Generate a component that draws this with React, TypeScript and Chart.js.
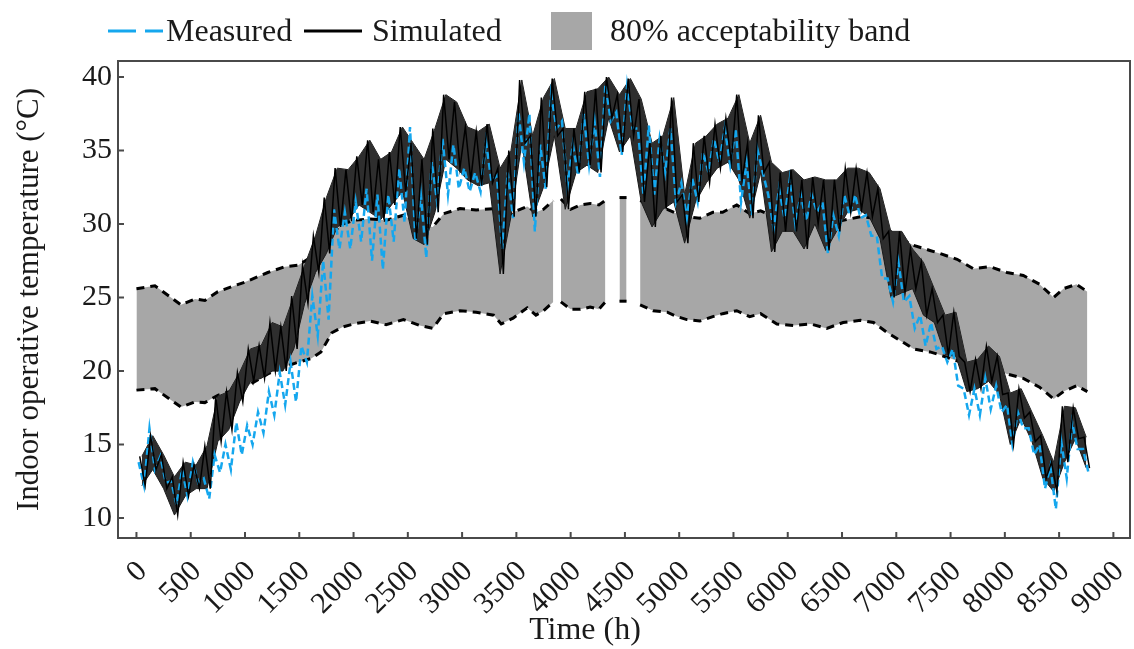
import { useEffect, useRef } from "react";
import { Chart, registerables } from "chart.js";

Chart.register(...registerables);

const FONT = '"Liberation Serif", "Times New Roman", serif';
const INK = "#1a1a1a";
const BLUE = "#15a7ee";
const BAND_GREY = "#a7a7a7";
const SIM_FILL = "#2e2e2e";

// Start hour of each 100 h window
const hours = [
  0, 100, 200, 300, 400, 500, 600, 700, 800, 900,
  1000, 1100, 1200, 1300, 1400, 1500, 1600, 1700, 1800, 1900,
  2000, 2100, 2200, 2300, 2400, 2500, 2600, 2700, 2800, 2900,
  3000, 3100, 3200, 3300, 3400, 3500, 3600, 3700, 3800, 3900,
  4000, 4100, 4200, 4300, 4400, 4500, 4600, 4700, 4800, 4900,
  5000, 5100, 5200, 5300, 5400, 5500, 5600, 5700, 5800, 5900,
  6000, 6100, 6200, 6300, 6400, 6500, 6600, 6700, 6800, 6900,
  7000, 7100, 7200, 7300, 7400, 7500, 7600, 7700, 7800, 7900,
  8000, 8100, 8200, 8300, 8400, 8500, 8600, 8700,
];

// Simulated operative temperature: daily highs / lows within each window (°C)
const simulatedHigh = [
  14.2, 15.6, 14.3, 12.8, 13.8, 13.6, 14.9, 18.3, 18.6, 19.9,
  21.5, 21.75, 23.3, 23.0, 25.1, 27.2, 29.2, 31.8, 33.8, 33.7,
  34.6, 35.7, 34.4, 34.9, 36.6, 35.5, 34.4, 36.5, 38.8, 38.3,
  36.6, 36.3, 36.8, 33.8, 35.0, 39.8, 36.0, 38.6, 39.9, 36.5,
  36.5, 39.0, 39.2, 40.0, 38.8, 39.9, 38.5, 35.5, 36.0, 38.6,
  32.0, 35.5, 36.0, 36.8, 37.2, 38.8, 35.5, 37.4, 34.2, 33.5,
  33.7, 33.0, 33.2, 33.0, 33.0, 33.8, 33.8, 33.5, 32.4, 29.5,
  29.5, 28.3, 27.4, 25.6, 23.8, 24.0, 20.6, 20.8, 21.7, 21.0,
  18.5, 18.8, 17.2, 15.6, 13.8, 17.6, 17.5, 15.5,
];
const simulatedLow = [
  12.2, 13.3, 12.0, 10.2, 11.5, 12.0, 12.0, 15.2, 16.0, 17.9,
  19.3, 19.5, 20.0, 20.0, 21.5, 24.6, 26.7, 28.0, 29.8, 30.2,
  31.3, 30.8, 30.3, 31.3, 32.2, 29.0, 28.6, 30.8, 34.4, 33.8,
  33.0, 32.6, 32.8, 26.6, 30.5, 35.5, 30.5, 32.5, 36.0, 31.0,
  33.5, 34.0, 33.5, 37.2, 34.9, 36.0, 31.5, 29.8, 31.0, 31.5,
  28.7, 31.5, 32.8, 33.8, 34.2, 33.0, 30.4, 33.5, 28.1, 29.5,
  29.5, 28.3, 30.0, 28.2, 29.5, 30.8, 31.0, 30.5, 29.0, 25.0,
  25.3, 25.6, 23.8, 23.3, 21.1, 21.0, 18.6, 18.8, 19.3, 18.4,
  15.0, 16.8, 15.2, 12.7, 11.8, 13.8, 15.4, 13.4,
];

// Measured operative temperature: highs / lows within each window (°C)
const measuredHigh = [
  13.8, 16.1, 14.2, 12.5, 13.3, 13.8, 12.7, 14.3, 15.0, 16.5,
  16.3, 17.2, 18.6, 19.9, 20.6, 21.7, 25.1, 27.5, 31.0, 30.8,
  31.5, 32.4, 32.0, 32.0, 33.8, 36.6, 32.0, 34.2, 35.8, 35.4,
  33.8, 33.5, 35.6, 33.3, 33.5, 37.6, 37.5, 35.4, 38.8, 37.0,
  35.4, 37.5, 37.0, 39.5, 37.6, 39.4, 36.5, 36.7, 35.8, 36.5,
  32.8, 33.1, 34.9, 35.8, 36.5, 36.5, 34.2, 35.1, 32.0, 32.4,
  33.1, 32.0, 32.0, 31.5, 30.6, 32.0, 32.0, 30.6, 29.2, 26.3,
  27.4, 25.1, 23.8, 23.3, 21.7, 21.5, 18.8, 18.8, 19.5, 19.0,
  17.7, 17.2, 16.1, 15.0, 13.5, 15.2, 16.5, 14.7,
];
const measuredLow = [
  12.2, 13.3, 12.4, 10.9, 11.5, 12.4, 11.3, 13.1, 13.3, 14.3,
  15.0, 15.8, 17.0, 17.7, 17.9, 20.6, 22.4, 23.5, 28.3, 28.3,
  28.8, 27.5, 26.9, 28.8, 30.1, 28.8, 27.7, 31.5, 32.0, 32.4,
  32.2, 32.2, 32.9, 28.3, 30.4, 34.2, 29.5, 32.4, 36.5, 32.5,
  33.3, 34.0, 33.2, 37.0, 34.7, 36.5, 32.0, 32.0, 33.5, 31.5,
  30.4, 31.5, 33.5, 34.2, 34.0, 31.5, 30.6, 33.5, 29.7, 30.4,
  30.0, 30.2, 30.8, 28.0, 29.2, 30.6, 30.4, 29.2, 26.3, 24.7,
  24.7, 22.9, 21.7, 21.5, 20.6, 19.0, 17.0, 17.0, 17.4, 17.2,
  15.0, 16.1, 14.3, 12.0, 10.6, 12.7, 14.7, 13.1,
];

// 80 % acceptability limits (null = no limit available)
const bandHours = [
  0, 170, 410, 540, 630, 750, 1000, 1210, 1370, 1490,
  1610, 1700, 1800, 1900, 2000, 2150, 2300, 2460, 2610, 2730,
  2830, 2980, 3130, 3290, 3360, 3470, 3600, 3680, 3750, 3840,
  3875, 3910, 4000, 4090, 4180, 4260, 4320, 4380, 4450, 4515,
  4580, 4640, 4760, 4890, 4980, 5070, 5190, 5310, 5400, 5530,
  5650, 5750, 5900, 6050, 6210, 6360, 6510, 6670, 6790, 6910,
  7030, 7160, 7310, 7400, 7560, 7710, 7860, 8020, 8170, 8320,
  8450, 8540, 8660, 8760,
];
const bandUpper = [
  25.6, 25.8, 24.5, 24.9, 24.8, 25.4, 26.05, 26.7, 27.1, 27.2,
  27.75, 28.4, 29.4, 30.0, 30.25, 30.35, 30.25, 30.6, 29.9, 29.8,
  30.7, 31.05, 30.95, 31.05, 30.25, 30.8, 31.2, 30.8, 31.0, 31.6,
  null, 31.7, 31.0, 31.3, 31.4, 31.3, 31.6, null, 31.8, 31.8,
  null, 31.6, 31.3, 31.0, 30.7, 30.5, 30.4, 30.8, 30.8, 31.3,
  30.7, 30.9, 30.4, 30.25, 30.1, 30.0, 30.25, 30.5, 30.4, 29.7,
  29.0, 28.55, 28.2, 28.0, 27.6, 26.96, 27.1, 26.7, 26.5, 25.9,
  25.0, 25.6, 25.9, 25.4,
];
const bandLower = [
  18.7, 18.8, 17.55, 17.9, 17.85, 18.35, 18.9, 19.8, 20.3, 20.6,
  20.85, 21.3, 22.6, 23.0, 23.2, 23.4, 23.15, 23.5, 23.1, 22.9,
  23.9, 24.1, 24.0, 23.8, 23.2, 23.6, 24.3, 23.8, 24.1, 24.7,
  null, 24.7, 24.2, 24.2, 24.35, 24.2, 24.7, null, 24.75, 24.75,
  null, 24.5, 24.1, 24.0, 23.7, 23.5, 23.4, 23.7, 23.9, 24.1,
  23.7, 23.9, 23.2, 23.1, 23.2, 22.9, 23.3, 23.45, 23.3, 22.65,
  22.1, 21.5, 21.3, 21.1, 20.7, 20.2, 20.2, 19.8, 19.5, 18.9,
  18.1, 18.6, 19.0, 18.6,
];

const xTicks = [
  0, 500, 1000, 1500, 2000, 2500, 3000, 3500, 4000, 4500,
  5000, 5500, 6000, 6500, 7000, 7500, 8000, 8500, 9000,
];
const yTicks = [10, 15, 20, 25, 30, 35, 40];

const seriesLabels = ["Measured", "Simulated", "80% acceptability band"];
const xTitle = "Time (h)";
const yTitle = "Indoor operative temperature (°C)";

type Pt = { x: number; y: number };

// High and low of each window as an alternating trace
function dailySwing(high: number[], low: number[], hiShift: number, loShift: number): Pt[] {
  const pts: Pt[] = [];
  hours.forEach((h, i) => {
    pts.push({ x: h + hiShift, y: high[i] });
    pts.push({ x: h + loShift, y: low[i] });
  });
  return pts;
}

function envelope(values: number[]): Pt[] {
  return hours.map((h, i) => ({ x: h + 50, y: values[i] }));
}

// Split the band wherever a limit is missing
function bandSegments() {
  const segs: { upper: Pt[]; lower: Pt[] }[] = [];
  let cur: { upper: Pt[]; lower: Pt[] } = { upper: [], lower: [] };
  bandHours.forEach((h, i) => {
    const u = bandUpper[i];
    const l = bandLower[i];
    if (u === null || l === null) {
      if (cur.upper.length) segs.push(cur);
      cur = { upper: [], lower: [] };
      return;
    }
    cur.upper.push({ x: h, y: u });
    cur.lower.push({ x: h, y: l });
  });
  if (cur.upper.length) segs.push(cur);
  return segs;
}

function buildDatasets() {
  const ds: any[] = [];
  const segs = bandSegments();
  const clear = "rgba(0,0,0,0)";
  segs.forEach((seg) => {
    const topIdx = ds.length;
    ds.push({ data: seg.upper, borderColor: clear, borderWidth: 1, fill: false, order: 100 });
    ds.push({ data: seg.lower, borderColor: clear, borderWidth: 1, fill: topIdx, backgroundColor: BAND_GREY, order: 99 });
  });
  segs.forEach((seg) => {
    ds.push({ data: seg.upper, borderColor: "#000", borderWidth: 3, borderDash: [8, 6], fill: false, order: 50 });
    ds.push({ data: seg.lower, borderColor: "#000", borderWidth: 3, borderDash: [8, 6], fill: false, order: 50 });
  });
  const simTop = ds.length;
  ds.push({ data: envelope(simulatedHigh), borderColor: INK, borderWidth: 1, fill: false, order: 12 });
  ds.push({ data: envelope(simulatedLow), borderColor: INK, borderWidth: 1, fill: simTop, backgroundColor: SIM_FILL, order: 11 });
  ds.push({
    label: seriesLabels[0],
    data: dailySwing(measuredHigh, measuredLow, 20, 70),
    borderColor: BLUE,
    borderWidth: 2.5,
    borderDash: [7, 4],
    fill: false,
    order: 5,
  });
  ds.push({
    label: seriesLabels[1],
    data: dailySwing(simulatedHigh, simulatedLow, 30, 80),
    borderColor: "#000",
    borderWidth: 1.5,
    fill: false,
    order: 2,
  });
  return ds;
}

// Box around the plot with inward tick marks, plus the time-axis title
const framePlugin = {
  id: "frame",
  afterDraw(chart: any) {
    const { ctx, chartArea: a, scales } = chart;
    ctx.save();
    ctx.strokeStyle = "#4a4a4a";
    ctx.lineWidth = 2;
    ctx.strokeRect(a.left, a.top, a.right - a.left, a.bottom - a.top);
    ctx.beginPath();
    scales.x.ticks.forEach((t: any) => {
      const px = scales.x.getPixelForValue(t.value);
      ctx.moveTo(px, a.bottom);
      ctx.lineTo(px, a.bottom - 6);
    });
    scales.y.ticks.forEach((t: any) => {
      const py = scales.y.getPixelForValue(t.value);
      ctx.moveTo(a.left, py);
      ctx.lineTo(a.left + 6, py);
    });
    ctx.stroke();

    ctx.font = `32px ${FONT}`;
    ctx.fillStyle = INK;
    ctx.textAlign = "center";
    ctx.textBaseline = "middle";
    ctx.fillText(xTitle, 585, 631);
    ctx.restore();
  },
};

// Single-row legend above the plot
const legendPlugin = {
  id: "legendRow",
  afterDraw(chart: any) {
    const ctx = chart.ctx;
    const cy = 31;
    const base = 41;
    ctx.save();
    ctx.font = `32px ${FONT}`;
    ctx.textBaseline = "alphabetic";
    ctx.fillStyle = INK;

    ctx.lineWidth = 3;
    ctx.strokeStyle = BLUE;
    ctx.setLineDash([28, 9]);
    ctx.beginPath();
    ctx.moveTo(108, cy);
    ctx.lineTo(163, cy);
    ctx.stroke();
    ctx.setLineDash([]);
    ctx.fillText(seriesLabels[0], 166, base);

    ctx.strokeStyle = "#000";
    ctx.beginPath();
    ctx.moveTo(304, cy);
    ctx.lineTo(362, cy);
    ctx.stroke();
    ctx.fillText(seriesLabels[1], 372, base);

    ctx.fillStyle = BAND_GREY;
    ctx.fillRect(551, 12, 41, 38);
    ctx.fillStyle = INK;
    ctx.fillText(seriesLabels[2], 610, base);
    ctx.restore();
  },
};

export default function App() {
  const ref = useRef<HTMLCanvasElement | null>(null);

  useEffect(() => {
    if (!ref.current) return;
    const chart = new Chart(ref.current, {
      type: "line",
      data: { datasets: buildDatasets() },
      options: {
        responsive: false,
        animation: false,
        devicePixelRatio: 1,
        events: [],
        layout: { padding: { top: 61, right: 4, left: 0, bottom: 0 } },
        elements: { point: { radius: 0 }, line: { tension: 0 } },
        plugins: { legend: { display: false }, tooltip: { enabled: false } },
        scales: {
          x: {
            type: "linear",
            min: -170,
            max: 9153,
            afterBuildTicks: (s: any) => {
              s.ticks = xTicks.map((v) => ({ value: v }));
            },
            afterFit: (s: any) => {
              s.height = 111;
              s.paddingLeft = 0;
              s.paddingRight = 0;
            },
            grid: { display: false, drawTicks: false },
            border: { display: false },
            ticks: {
              autoSkip: false,
              minRotation: 45,
              maxRotation: 45,
              padding: 16,
              labelOffset: 6,
              color: INK,
              font: { family: FONT, size: 30 },
              callback: (v: any) => String(v),
            },
            title: { display: false },
          },
          y: {
            type: "linear",
            min: 8.64,
            max: 41.09,
            afterBuildTicks: (s: any) => {
              s.ticks = yTicks.map((v) => ({ value: v }));
            },
            afterFit: (s: any) => {
              s.width = 118;
              s.paddingTop = 0;
              s.paddingBottom = 0;
            },
            grid: { display: false, drawTicks: false },
            border: { display: false },
            ticks: {
              padding: 6,
              color: INK,
              font: { family: FONT, size: 30 },
              callback: (v: any) => String(v),
            },
            title: {
              display: true,
              text: yTitle,
              color: INK,
              font: { family: FONT, size: 31 },
              padding: { top: 11, bottom: 0 },
            },
          },
        },
      },
      plugins: [framePlugin, legendPlugin],
    } as any);
    return () => chart.destroy();
  }, []);

  return (
    <div style={{ position: "fixed", left: 0, top: 0, width: 1134, height: 649, background: "#fff" }}>
      <canvas ref={ref} width={1134} height={649} style={{ display: "block" }} />
    </div>
  );
}
